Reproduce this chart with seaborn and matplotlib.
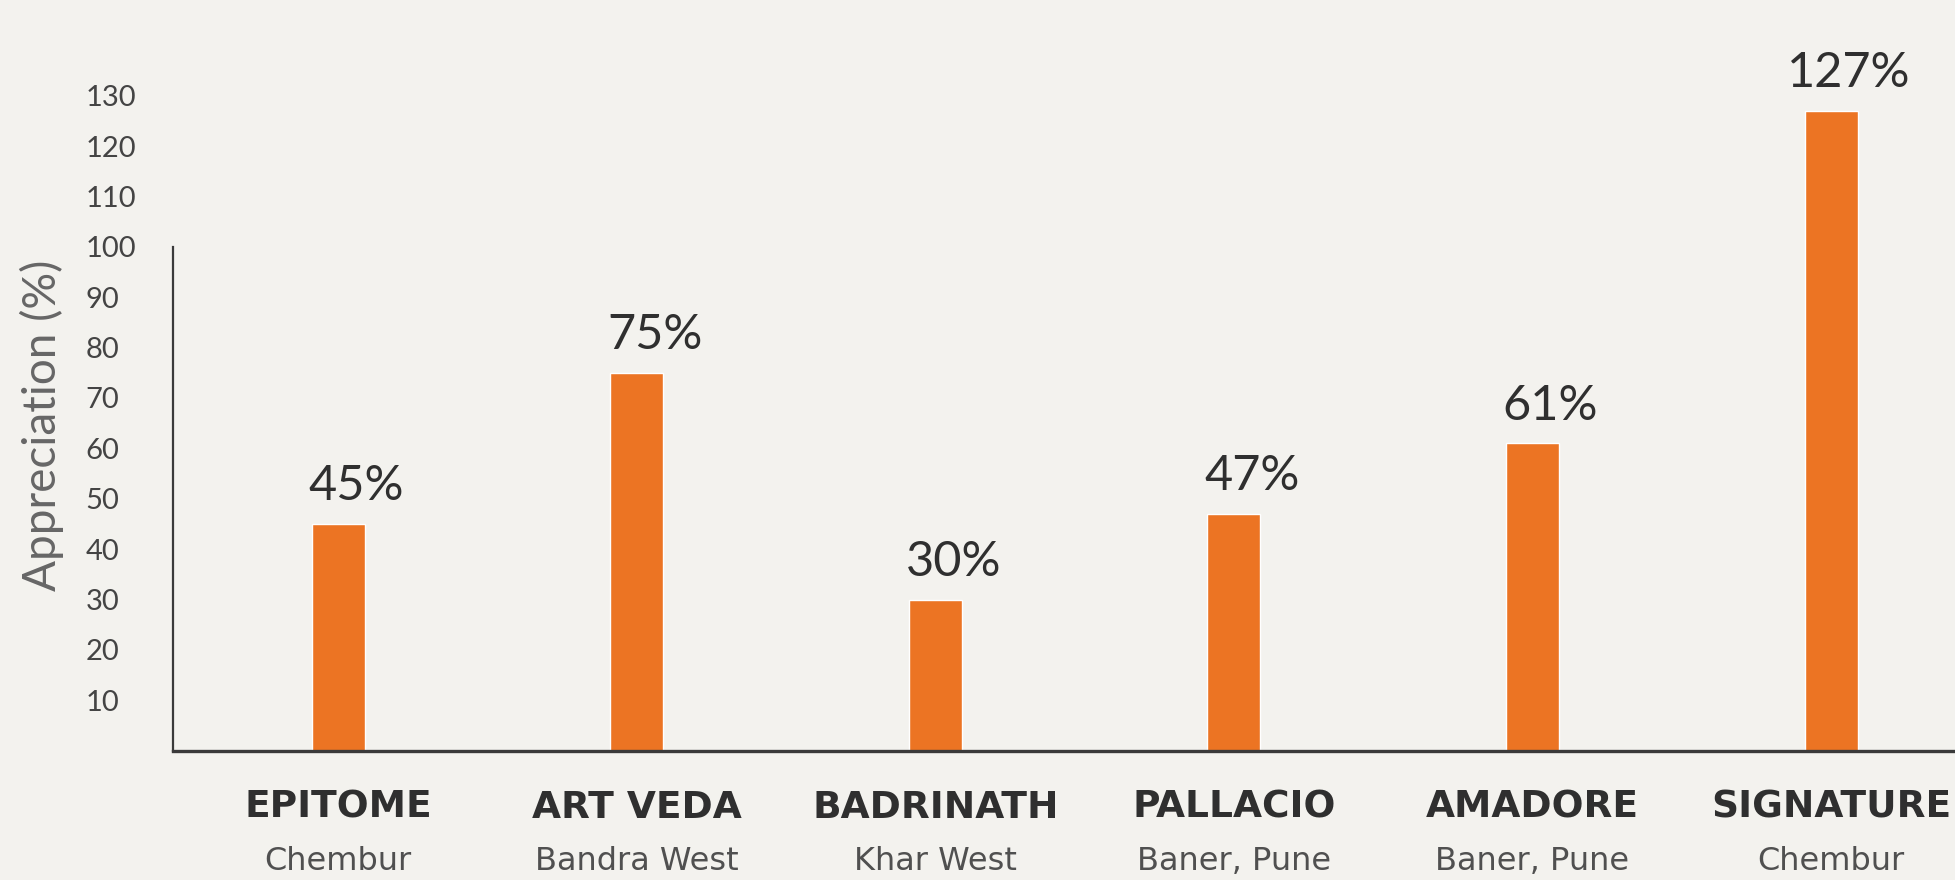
import matplotlib
matplotlib.use("Agg")
import matplotlib.pyplot as plt
import seaborn as sns
import pandas as pd

# ---- data ----
projects = ["EPITOME", "ART VEDA", "BADRINATH", "PALLACIO", "AMADORE", "SIGNATURE"]
locations = ["Chembur", "Bandra West", "Khar West", "Baner, Pune", "Baner, Pune", "Chembur"]
appreciation = [45, 75, 30, 47, 61, 127]
y_ticks = [10, 20, 30, 40, 50, 60, 70, 80, 90, 100, 110, 120, 130]

BG = "#f3f2ee"
BAR = "#ec7423"
DARK = "#2f2f2f"
GREY = "#5a5a5a"

sns.set_theme(style="white")
plt.rcParams["font.family"] = ["Lato", "DejaVu Sans"]

fig = plt.figure(figsize=(19.55, 8.8), dpi=100, facecolor=BG)
ax = fig.add_axes([0.0885, 0.147, 0.9115, 0.853])
ax.set_facecolor(BG)

df = pd.DataFrame({"project": projects, "value": appreciation})
sns.barplot(data=df, x="project", y="value", color=BAR, width=0.178,
            saturation=1, ax=ax)

ax.set_xlim(-0.553, 5.415)
ax.set_ylim(0, 149)

# spines
for s in ["top", "right"]:
    ax.spines[s].set_visible(False)
ax.spines["left"].set_bounds(0, 100)
ax.spines["left"].set_color("#3a3a3a")
ax.spines["left"].set_linewidth(1.6)
ax.spines["bottom"].set_color("#3a3a3a")
ax.spines["bottom"].set_linewidth(2.4)

# y ticks (left-aligned labels)
ax.set_yticks(y_ticks)
ax.set_yticklabels([str(t) for t in y_ticks])
ax.tick_params(axis="y", length=0, pad=63, labelsize=21, labelcolor="#444444")
for lab in ax.get_yticklabels():
    lab.set_horizontalalignment("left")
ax.set_ylabel("Appreciation (%)", fontsize=33, color="#666666", fontweight="normal")
ax.yaxis.set_label_coords(-0.061, 0.434)

# x tick labels: project names
ax.set_xlabel("")
ax.set_xticks(range(len(projects)))
ax.set_xticklabels(projects, fontsize=27, fontweight="bold", color=DARK,
                   family=["DejaVu Sans"])
ax.tick_params(axis="x", length=0, pad=41)
for lab in ax.get_xticklabels():
    lab.set_verticalalignment("center")

# locations below
for i, loc in enumerate(locations):
    ax.annotate(loc, xy=(i, 0), xycoords=("data", "axes fraction"),
                xytext=(0, -80), textcoords="offset points",
                ha="center", va="center", fontsize=23, color="#505050",
                family=["DejaVu Sans"])

# value labels
for i, v in enumerate(appreciation):
    ax.annotate(f"{v}%", xy=(i, v), xytext=(13, 27), textcoords="offset points",
                ha="center", va="center", fontsize=35, color=DARK)

fig.savefig("out.png", dpi=100, facecolor=BG)
